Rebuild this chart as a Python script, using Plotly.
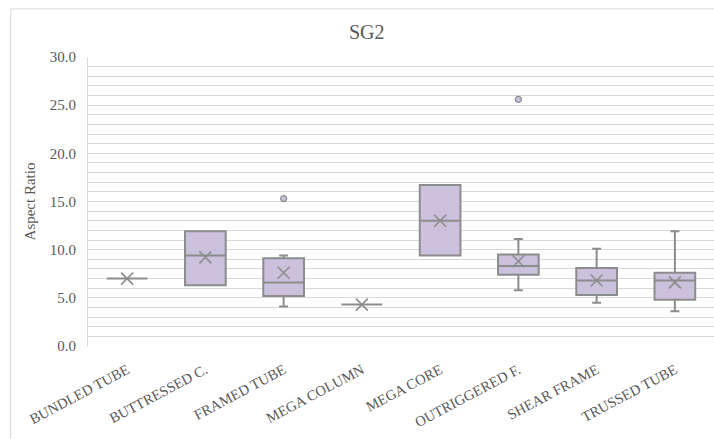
import plotly.graph_objects as go

# Structural system categories (SG2 group)
categories = ["BUNDLED TUBE", "BUTTRESSED C.", "FRAMED TUBE", "MEGA COLUMN",
              "MEGA CORE", "OUTRIGGERED F.", "SHEAR FRAME", "TRUSSED TUBE"]

# Box statistics of the aspect ratio per system
q1_vals = [7.0, 6.3, 5.2, 4.3, 9.4, 7.4, 5.3, 4.8]
median_vals = [7.0, 9.4, 6.6, 4.3, 13.0, 8.3, 6.8, 6.8]
q3_vals = [7.0, 11.9, 9.1, 4.3, 16.7, 9.5, 8.1, 7.6]
lower_vals = [7.0, 6.3, 4.1, 4.3, 9.4, 5.8, 4.5, 3.6]
upper_vals = [7.0, 11.9, 9.4, 4.3, 16.7, 11.1, 10.1, 11.9]
mean_vals = [7.0, 9.2, 7.6, 4.3, 13.0, 8.8, 6.8, 6.6]

# Outlying buildings
outlier_cats = ["FRAMED TUBE", "OUTRIGGERED F."]
outlier_vals = [15.3, 25.6]

FILL = "#CBC1DC"
EDGE = "#8C8C8C"
GRID = "#D9D9D9"
TEXT = "#595959"
FONT = "serif"

fig = go.Figure()

fig.add_trace(go.Box(
    x=categories,
    q1=q1_vals, median=median_vals, q3=q3_vals,
    lowerfence=lower_vals, upperfence=upper_vals,
    fillcolor=FILL,
    line=dict(color=EDGE, width=2),
    width=0.52,
    whiskerwidth=0.22,
    boxpoints=False,
    showlegend=False,
    hoverinfo="skip",
))

# Mean markers
fig.add_trace(go.Scatter(
    x=categories, y=mean_vals, mode="markers",
    marker=dict(symbol="x-thin", size=12, line=dict(color=EDGE, width=1.6)),
    showlegend=False,
))

# Outlier points
fig.add_trace(go.Scatter(
    x=outlier_cats, y=outlier_vals, mode="markers",
    marker=dict(symbol="circle", size=6, color=FILL, line=dict(color=EDGE, width=1.2)),
    showlegend=False,
))

W, H = 714, 439
left, right, top, bottom = 88, 0, 57.3, 93.3
pw = W - left - right
ph = H - top - bottom

fig.update_layout(
    width=W, height=H,
    margin=dict(l=left, r=right, t=top, b=bottom, pad=0),
    paper_bgcolor="white",
    plot_bgcolor="white",
    font=dict(family=FONT, color=TEXT),
    title=dict(text="SG2", x=(366.7) / W, xanchor="center",
               y=1 - 31.7 / H, yanchor="middle",
               font=dict(family=FONT, size=20, color=TEXT)),
    xaxis=dict(
        type="category",
        categoryorder="array", categoryarray=categories,
        range=[-0.5, len(categories) - 0.5],
        showgrid=False, zeroline=False, showline=False,
        tickangle=-28,
        tickfont=dict(family=FONT, size=14.5, color=TEXT),
        ticks="outside", ticklen=9, tickcolor="rgba(0,0,0,0)",
    ),
    yaxis=dict(
        range=[0, 30],
        dtick=5, tick0=0, tickformat=".1f",
        showgrid=True, gridcolor=GRID, gridwidth=1,
        minor=dict(dtick=1, showgrid=True, gridcolor=GRID, gridwidth=1),
        zeroline=False,
        showline=True, linecolor=GRID, linewidth=1,
        tickfont=dict(family=FONT, size=15, color=TEXT),
        ticks="outside", ticklen=8, tickcolor="rgba(0,0,0,0)",
        title=dict(text="Aspect Ratio", standoff=10,
                   font=dict(family=FONT, size=15, color=TEXT)),
    ),
    shapes=[dict(
        type="rect", xref="paper", yref="paper",
        x0=(10.7 - left) / pw, x1=1.2,
        y0=-0.6, y1=(H - bottom - 9.3) / ph,
        line=dict(color=GRID, width=1), fillcolor="rgba(0,0,0,0)",
        layer="below",
    )],
)

fig.write_html("out.html")
